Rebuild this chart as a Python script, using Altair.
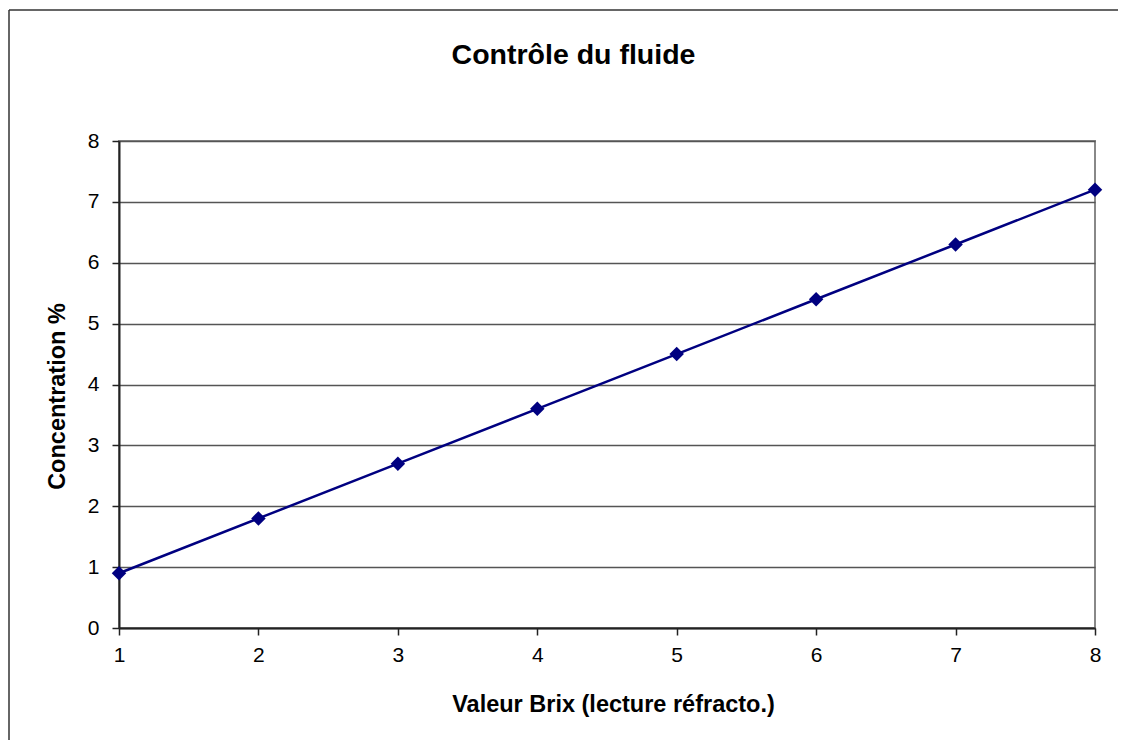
import altair as alt
import pandas as pd

# ---- data ----
brix = [1, 2, 3, 4, 5, 6, 7, 8]
concentration = [0.9, 1.8, 2.7, 3.6, 4.5, 5.4, 6.3, 7.2]
x_ticks = [1, 2, 3, 4, 5, 6, 7, 8]
y_ticks = [0, 1, 2, 3, 4, 5, 6, 7, 8]
title_text = ["Contrôle du fluide"]
x_title = "Valeur Brix (lecture réfracto.)"
y_title = "Concentration %"

FONT = "Liberation Sans"
NAVY = "#000080"

df = pd.DataFrame({"brix": brix, "conc": concentration})

x_enc = alt.X(
    "brix:Q",
    scale=alt.Scale(domain=[1, 8], nice=False, zero=False),
    axis=alt.Axis(
        values=x_ticks, title=x_title, grid=False, labelFlush=False,
        domainColor="#222222", domainWidth=2,
        tickColor="#222222", tickWidth=1.5, tickSize=7,
        labelFont=FONT, labelFontSize=21, labelColor="#000000", labelPadding=9,
        titleFont=FONT, titleFontSize=23.5, titleFontWeight="bold", titleColor="#000000",
        titleX=494, titleY=76, titleBaseline="middle", titleAlign="center",
    ),
)
y_enc = alt.Y(
    "conc:Q",
    scale=alt.Scale(domain=[0, 8], nice=False),
    axis=alt.Axis(
        values=y_ticks, title=y_title, grid=True, labelFlush=False,
        gridColor="#555555", gridWidth=1.5,
        domainColor="#222222", domainWidth=2,
        tickColor="#222222", tickWidth=1.5, tickSize=7,
        labelFont=FONT, labelFontSize=21, labelColor="#000000", labelPadding=13,
        titleFont=FONT, titleFontSize=23.5, titleFontWeight="bold", titleColor="#000000",
        titleX=-62, titleY=255, titleBaseline="middle", titleAlign="center", titleAngle=270,
    ),
)

base = alt.Chart(df).encode(x=x_enc, y=y_enc)
line = base.mark_line(color=NAVY, strokeWidth=2.5)
points = base.mark_point(shape="diamond", filled=True, size=210, color=NAVY, opacity=1)

one = pd.DataFrame({"t": title_text})
title = alt.Chart(one).mark_text(
    font=FONT, fontSize=28.5, fontWeight="bold", color="#000000",
    align="center", baseline="middle",
).encode(text="t:N", x=alt.value(454.5), y=alt.value(-86))

frame = alt.Chart(one).mark_rule(color="#333333", strokeWidth=1.5)
frame_top = frame.encode(x=alt.value(-110), x2=alt.value(1005), y=alt.value(-131))
frame_left = frame.encode(x=alt.value(-110), y=alt.value(-131), y2=alt.value(800))

chart = (
    alt.layer(line, points, title, frame_top, frame_left)
    .properties(
        width=976, height=487,
        autosize=alt.AutoSizeParams(type="none"),
        padding={"left": 111, "top": 133, "right": 23, "bottom": 112},
        background="white",
    )
    .configure_view(stroke="#888888", strokeWidth=2)
)

chart.save("out.html", embed_options={"renderer": "svg", "actions": False})
